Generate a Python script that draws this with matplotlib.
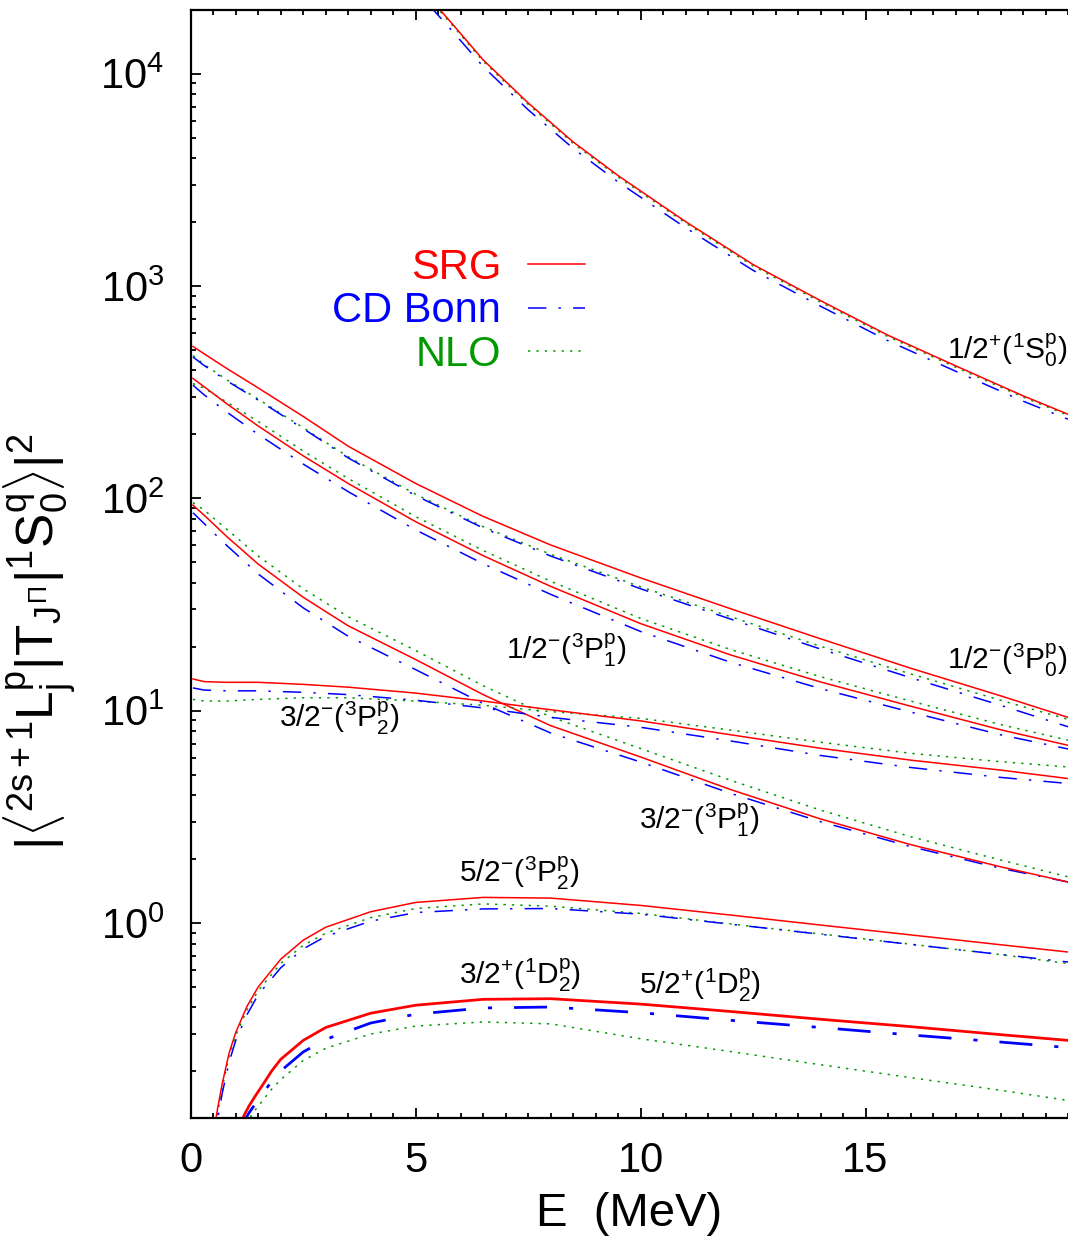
import numpy as np
import matplotlib
matplotlib.use('Agg')
import matplotlib.pyplot as plt
from matplotlib.ticker import MultipleLocator, LogLocator, NullFormatter

plt.rcParams['font.family'] = ['Liberation Sans', 'DejaVu Sans']
plt.rcParams['mathtext.fontset'] = 'custom'
plt.rcParams['mathtext.rm'] = 'Liberation Sans'
plt.rcParams['mathtext.it'] = 'Liberation Sans'
plt.rcParams['mathtext.bf'] = 'Liberation Sans:bold'
plt.rcParams['mathtext.sf'] = 'Liberation Sans'

# ---------------- data ----------------
# 1/2+ (1S0)
E_1S0 = [5.3, 5.8, 6.5, 7.5, 8.5, 9.5, 11, 12.5, 14, 15.5, 17, 18.5, 19.5]
srg_1S0 = [22860, 17300, 11610, 7280, 4770, 3310, 2010, 1262, 853, 586, 421, 304, 249]
cdb_1S0 = [21000, 16000, 10800, 6760, 4450, 3090, 1880, 1185, 803, 552, 397, 287, 236]
nlo_1S0 = [22500, 17050, 11440, 7170, 4700, 3260, 1980, 1243, 840, 577, 415, 300, 246]

# common grid for the P-wave channels
E_P = [0.05, 0.3, 0.8, 1.5, 2.5, 3.5, 5, 6.5, 8, 10, 12, 14, 16, 18, 19.5]

# 1/2- (3P0)
srg_3P0 = [519, 479, 409, 331, 243, 176, 117.5, 82.2, 60.3, 42.2, 30.2, 21.8, 15.85, 11.75, 9.3]
cdb_3P0 = [463, 422, 358, 290, 213, 155, 103, 72.5, 53.5, 37.5, 27.0, 19.5, 14.3, 10.6, 8.4]
nlo_3P0 = [470, 427, 362, 293, 215, 157, 104.5, 73.5, 54.5, 38.3, 27.7, 20.1, 14.9, 11.2, 9.1]

# 1/2- (3P1)
srg_3P1a = [367, 335, 279, 219, 158.5, 117.5, 77.6, 53.7, 38.5, 25.7, 18.3, 13.65, 10.5, 8.13, 6.87]
cdb_3P1a = [341, 307, 255, 200, 145, 107.5, 71.0, 49.2, 35.3, 23.6, 16.9, 12.7, 9.85, 7.7, 6.6]
nlo_3P1a = [347, 330, 284, 230, 167, 124, 82.0, 56.8, 40.7, 27.2, 19.4, 14.45, 11.1, 8.6, 7.26]

# 3/2- (3P1)
srg_3P1b = [92.9, 83.2, 66.1, 49.0, 34.2, 25.1, 17.4, 11.9, 8.5, 6.05, 4.25, 3.09, 2.34, 1.84, 1.56]
cdb_3P1b = [85.5, 76.0, 60.0, 44.0, 30.5, 22.4, 15.6, 10.8, 7.85, 5.73, 4.08, 3.0, 2.29, 1.81, 1.56]
nlo_3P1b = [95.5, 88.0, 71.5, 53.5, 37.5, 27.7, 19.2, 13.1, 9.35, 6.63, 4.7, 3.4, 2.55, 1.98, 1.65]

# 3/2- (3P2)
srg_3P2a = [14.1, 13.7, 13.6, 13.6, 13.3, 12.9, 12.1, 11.1, 10.1, 8.95, 7.7, 6.65, 5.85, 5.25, 4.79]
cdb_3P2a = [12.8, 12.5, 12.4, 12.4, 12.2, 11.9, 11.2, 10.3, 9.3, 8.35, 7.2, 6.15, 5.4, 4.85, 4.54]
nlo_3P2a = [11.3, 11.1, 11.1, 11.3, 11.5, 11.5, 11.1, 10.6, 9.9, 9.2, 8.1, 7.1, 6.3, 5.75, 5.43]

# 5/2- (3P2)
E_3P2b = [0.5, 0.6, 0.7, 0.85, 1.0, 1.25, 1.5, 2.0, 2.5, 3.0, 4.0, 5.0, 6.5, 8, 10, 12, 14, 16, 18, 19.5]
srg_3P2b = [0.10, 0.135, 0.175, 0.243, 0.305, 0.405, 0.50, 0.675, 0.83, 0.955, 1.13, 1.25, 1.32, 1.31,
            1.21, 1.09, 0.978, 0.879, 0.79, 0.73]
cdb_3P2b = [0.09, 0.12, 0.158, 0.22, 0.28, 0.37, 0.46, 0.615, 0.755, 0.865, 1.02, 1.12, 1.165, 1.17,
            1.10, 0.987, 0.885, 0.793, 0.711, 0.655]
nlo_3P2b = [0.095, 0.128, 0.168, 0.235, 0.295, 0.39, 0.48, 0.645, 0.785, 0.895, 1.06, 1.17, 1.23, 1.2,
            1.11, 0.99, 0.888, 0.795, 0.71, 0.644]

# 3/2+ and 5/2+ (1D2)
E_1D2 = [1.1, 1.2, 1.3, 1.45, 1.6, 1.8, 2.0, 2.5, 3.0, 4.0, 5.0, 6.5, 8, 10, 12, 14, 16, 18, 19.5]
srg_1D2 = [0.113, 0.126, 0.138, 0.155, 0.173, 0.201, 0.228, 0.28, 0.322, 0.376, 0.41, 0.437, 0.44,
           0.415, 0.383, 0.352, 0.325, 0.298, 0.28]
cdb_1D2 = [0.10, 0.118, 0.128, 0.142, 0.157, 0.18, 0.201, 0.247, 0.283, 0.338, 0.372, 0.398, 0.402,
           0.378, 0.348, 0.322, 0.297, 0.275, 0.259]
nlo_1D2 = [0.095, 0.11, 0.12, 0.133, 0.146, 0.165, 0.183, 0.225, 0.257, 0.300, 0.327, 0.342, 0.335,
           0.285, 0.248, 0.215, 0.187, 0.163, 0.146]

model_names = ['SRG', 'CD Bonn', 'NLO']

channel_labels = [r'$1/2^{+}(^{1}\mathrm{S}_{0}^{p})$',
                  r'$1/2^{-}(^{3}\mathrm{P}_{0}^{p})$',
                  r'$1/2^{-}(^{3}\mathrm{P}_{1}^{p})$',
                  r'$3/2^{-}(^{3}\mathrm{P}_{2}^{p})$',
                  r'$3/2^{-}(^{3}\mathrm{P}_{1}^{p})$',
                  r'$5/2^{-}(^{3}\mathrm{P}_{2}^{p})$',
                  r'$3/2^{+}(^{1}\mathrm{D}_{2}^{p})$',
                  r'$5/2^{+}(^{1}\mathrm{D}_{2}^{p})$']
label_E = [16.8, 16.8, 7.0, 1.97, 9.97, 5.97, 5.97, 9.97]
label_val = [498, 17.2, 19.2, 9.2, 3.04, 1.71, 0.565, 0.507]

# ---------------- figure ----------------
fig = plt.figure(figsize=(10.68, 12.5), dpi=100)
ax = fig.add_axes([0.1786, 0.1058, 0.8214, 0.8864])

RED = '#ff0000'
BLUE = '#0000ff'
GREEN = '#009a00'
lw = 1.1
sty = [dict(color=RED, lw=lw, ls='-'),
       dict(color=BLUE, lw=lw, dashes=(12, 8, 1.5, 8)),
       dict(color=GREEN, lw=lw, dashes=(1.5, 4))]

channels = [
    (E_1S0, [srg_1S0, cdb_1S0, nlo_1S0], 1.0),
    (E_P, [srg_3P0, cdb_3P0, nlo_3P0], 1.0),
    (E_P, [srg_3P1a, cdb_3P1a, nlo_3P1a], 1.0),
    (E_P, [srg_3P1b, cdb_3P1b, nlo_3P1b], 1.0),
    (E_P, [srg_3P2a, cdb_3P2a, nlo_3P2a], 1.0),
    (E_3P2b, [srg_3P2b, cdb_3P2b, nlo_3P2b], 1.0),
    (E_1D2, [srg_1D2, cdb_1D2, nlo_1D2], 1.8),
]

handles = {}
for ci, (E, vals, wscale) in enumerate(channels):
    for mi in [2, 1, 0]:
        s = dict(sty[mi])
        if mi < 2:
            s['lw'] = lw * wscale
        ln, = ax.plot(E, vals[mi], **s)
        if ci == 0:
            handles[mi] = ln
handles = [handles[0], handles[1], handles[2]]

ax.set_yscale('log')
ax.set_xlim(0, 19.5)
ax.set_ylim(0.121, 2.0e4)

ax.xaxis.set_major_locator(MultipleLocator(5))
ax.xaxis.set_minor_locator(MultipleLocator(0.5))
ax.yaxis.set_major_locator(LogLocator(base=10))
ax.yaxis.set_minor_locator(LogLocator(base=10, subs=np.arange(2, 10)))
ax.yaxis.set_minor_formatter(NullFormatter())

ax.tick_params(which='both', direction='in', top=True, right=False, width=1.3,
               labelsize=30)
ax.tick_params(which='major', length=7.5)
ax.tick_params(which='minor', length=3.8)
ax.tick_params(axis='x', pad=17)
ax.tick_params(axis='y', pad=19)

for side in ['left', 'bottom', 'top']:
    ax.spines[side].set_linewidth(1.6)
ax.spines['right'].set_visible(False)

for txt, xe, yv in zip(channel_labels, label_E, label_val):
    ax.text(xe, yv, txt, fontsize=21.5, ha='left', va='center', color='black')

ax.set_xlabel('E  (MeV)', fontsize=34, labelpad=8)
ax.set_ylabel(r'$|\langle^{2s+1}\mathrm{L}_{j}^{p}|\mathrm{T}_{J^{\Pi}}|^{1}\mathrm{S}_{0}^{q}\rangle|^{2}$',
              fontsize=37)
ax.yaxis.set_label_coords(-0.128, 0.43)

leg = ax.legend(handles, model_names, loc='upper right', bbox_to_anchor=(0.468, 0.80),
                frameon=False, markerfirst=False, labelcolor='linecolor', fontsize=30,
                handlelength=1.35, handletextpad=0.65, labelspacing=0.08, borderaxespad=0)
for col in leg._legend_handle_box.get_children():
    col.align = 'right'

fig.savefig('out.png', dpi=100)
